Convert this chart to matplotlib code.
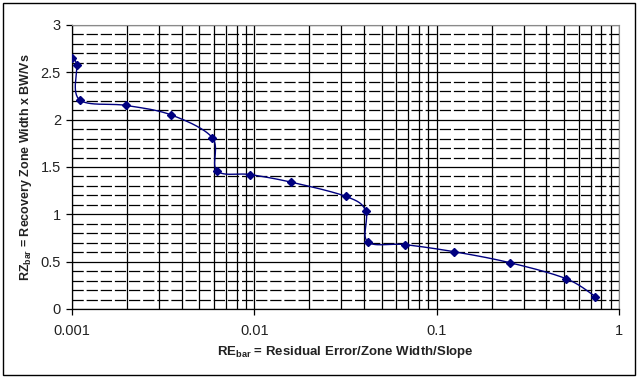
import matplotlib
matplotlib.use('Agg')
import matplotlib.pyplot as plt
import numpy as np
from matplotlib.ticker import FixedLocator, LogLocator, NullFormatter, FixedFormatter

plt.rcParams['font.family'] = ['Liberation Sans', 'DejaVu Sans']
plt.rcParams['mathtext.fontset'] = 'custom'
plt.rcParams['mathtext.rm'] = 'Liberation Sans'
plt.rcParams['mathtext.bf'] = 'Liberation Sans:bold'

# data
re_bar = [0.00100, 0.00106, 0.00110, 0.00199, 0.00350, 0.00588, 0.00624,
          0.00950, 0.0159, 0.0317, 0.0408, 0.0418, 0.0670, 0.1247,
          0.251, 0.513, 0.743]
rz_bar = [2.65, 2.58, 2.21, 2.15, 2.05, 1.81, 1.46,
          1.42, 1.34, 1.19, 1.04, 0.71, 0.68, 0.605,
          0.49, 0.32, 0.13]

x_ticks = [0.001, 0.01, 0.1, 1]
x_labels = ['0.001', '0.01', '0.1', '1']
y_ticks = [0, 0.5, 1, 1.5, 2, 2.5, 3]
y_labels = ['0', '0.5', '1', '1.5', '2', '2.5', '3']


def smooth(xs, ys, n=30):
    # Excel-style smoothed line: cubic Bezier, control points at 1/6 of neighbour chord
    u = np.log10(xs) * 182.4
    v = np.asarray(ys) * 94.7
    P = np.column_stack([u, v])
    out = [P[0]]
    t = np.linspace(0, 1, n)[1:, None]
    for i in range(len(P) - 1):
        p0 = P[i]
        p3 = P[i + 1]
        pm = P[i - 1] if i > 0 else P[i]
        pp = P[i + 2] if i + 2 < len(P) else P[i + 1]
        p1 = p0 + (p3 - pm) / 6
        p2 = p3 - (pp - p0) / 6
        seg = ((1 - t) ** 3) * p0 + 3 * ((1 - t) ** 2) * t * p1 + 3 * (1 - t) * t ** 2 * p2 + t ** 3 * p3
        out.extend(seg)
    out = np.array(out)
    return 10 ** (out[:, 0] / 182.4), out[:, 1] / 94.7


fig = plt.figure(figsize=(6.39, 3.79), dpi=100)
ax = fig.add_axes([72 / 639, 1 - 309 / 379, 547 / 639, 284 / 379])

ax.set_xscale('log')
ax.set_xlim(0.001, 1)
ax.set_ylim(0, 3)

# grid
ax.xaxis.set_major_locator(FixedLocator(x_ticks))
ax.xaxis.set_major_formatter(FixedFormatter(x_labels))
ax.xaxis.set_minor_locator(LogLocator(base=10, subs=np.arange(2, 10)))
ax.xaxis.set_minor_formatter(NullFormatter())
ax.yaxis.set_major_locator(FixedLocator(y_ticks))
ax.yaxis.set_major_formatter(FixedFormatter(y_labels))
ax.yaxis.set_minor_locator(FixedLocator(np.arange(0.1, 3.0, 0.1)))

ax.grid(True, which='major', axis='both', color='black', linewidth=0.9, linestyle='-')
ax.grid(True, which='minor', axis='x', color='black', linewidth=0.9, linestyle='-')
ax.grid(True, which='minor', axis='y', color='black', linewidth=0.9, linestyle=(0, (9, 2.3)))
ax.set_axisbelow(True)

ax.tick_params(which='minor', length=0)
ax.tick_params(which='major', direction='out', length=4, width=0.9, color='black',
               labelsize=10.5, labelcolor='#222222')
ax.tick_params(axis='x', pad=7)
ax.tick_params(axis='y', pad=4)

for s in ['top', 'right']:
    ax.spines[s].set_color('#8a8a8a')
for s in ['left', 'bottom']:
    ax.spines[s].set_color('black')
    ax.spines[s].set_linewidth(0.9)

sx, sy = smooth(re_bar, rz_bar)
ax.plot(sx, sy, color='#000080', linewidth=1.0, zorder=3)
ax.plot(re_bar, rz_bar, linestyle='none', marker='D', markersize=4.5,
        color='#000080', zorder=4)

ax.set_xlabel(r'RE$_{\mathbf{bar}}$ = Residual Error/Zone Width/Slope',
              fontsize=9.5, fontweight='bold', labelpad=4, color='#222222')
ax.set_ylabel(r'RZ$_{\mathbf{bar}}$ = Recovery Zone Width x BW/Vs',
              fontsize=9.0, fontweight='bold', labelpad=5, color='#222222')

# outer chart border
fig.patches.append(plt.Rectangle((3 / 639, 4 / 379), 632 / 639, 372 / 379,
                                 transform=fig.transFigure, fill=False,
                                 edgecolor='black', linewidth=1.0))

fig.savefig('out.png', dpi=100)
